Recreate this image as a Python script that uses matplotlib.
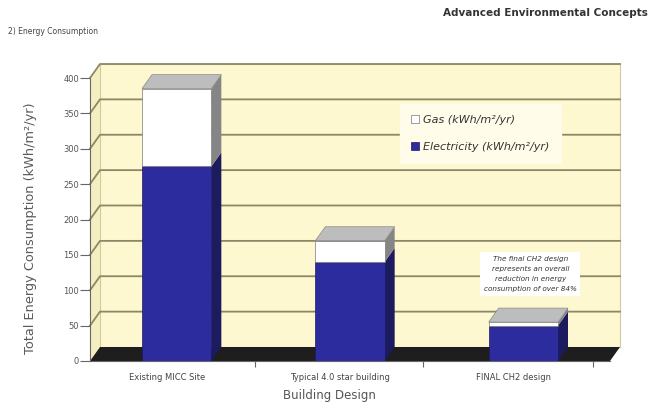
import numpy as np
import matplotlib.pyplot as plt
import matplotlib.transforms as mtransforms
from matplotlib.patches import Polygon

# dane do wykresu
budynki = ["Existing MICC Site", "Typical 4.0 star building", "FINAL CH2 design"]
prad = [275, 140, 50]     # Electricity (kWh/m2/yr)
gaz = [110, 30, 5]        # Gas (kWh/m2/yr)
y_ticks = [0, 50, 100, 150, 200, 250, 300, 350, 400]

W, H = 652, 403
DX, DY = 10, 14           # przesuniecie "glebokosci" w pikselach

fig = plt.figure(figsize=(W / 100, H / 100), dpi=100)
fig.patch.set_facecolor("white")
ax = fig.add_axes([90 / W, 1 - 361 / H, 520 / W, 283 / H])
ax.set_xlim(-0.5, 2.5)
ax.set_ylim(0, 400)
ax.patch.set_visible(False)

ident = mtransforms.IdentityTransform()


def px(x, y):
    return ax.transData.transform((x, y))


def wielokat(punkty, kolor, z, krawedz="none", lw=0.0):
    p = Polygon(punkty, closed=True, facecolor=kolor, edgecolor=krawedz,
                linewidth=lw, transform=ident, clip_on=False, zorder=z)
    ax.add_patch(p)


# sciany: tylna, boczna i podloga
x0, y0 = px(-0.5, 0)
x1, y1 = px(2.5, 400)
wielokat([(x0 + DX, y0 + DY), (x1 + DX, y0 + DY), (x1 + DX, y1 + DY), (x0 + DX, y1 + DY)],
         "#fdf8cf", 0.5, "#cfcaa6", 0.8)
wielokat([(x0, y0), (x0 + DX, y0 + DY), (x0 + DX, y1 + DY), (x0, y1)], "#f5eec0", 0.6)

# linie siatki na scianach
for v in y_ticks[1:]:
    xa, ya = px(-0.5, v)
    xb, _ = px(2.5, v)
    ax.plot([xa, xa + DX, xb + DX], [ya, ya + DY, ya + DY], color="#8c8766",
            lw=1.3, transform=ident, clip_on=False, zorder=0.8)

wielokat([(x0, y0), (x1, y0), (x1 + DX, y0 + DY), (x0 + DX, y0 + DY)], "#1e1e1e", 0.9)

# slupki (przednie sciany)
x = np.arange(len(budynki))
szer = 0.4
kol_prad = "#2c2c9e"
kol_gaz = "white"
b1 = ax.bar(x, prad, szer, color=kol_prad, edgecolor="#1a1a60", linewidth=0.5,
            zorder=3, label="Electricity (kWh/m\u00b2/yr)")
b2 = ax.bar(x, gaz, szer, bottom=prad, color=kol_gaz, edgecolor="#777777",
            linewidth=0.5, zorder=3, label="Gas (kWh/m\u00b2/yr)")

# boki i gory slupkow
for i in range(len(budynki)):
    e = prad[i]
    t = prad[i] + gaz[i]
    xl, _ = px(i - szer / 2, 0)
    xr, yb = px(i + szer / 2, 0)
    _, ye = px(0, e)
    _, yt = px(0, t)
    wielokat([(xr, yb), (xr + DX, yb + DY), (xr + DX, ye + DY), (xr, ye)], "#1b1b5e", 2.5)
    wielokat([(xr, ye), (xr + DX, ye + DY), (xr + DX, yt + DY), (xr, yt)], "#858585", 2.5)
    wielokat([(xl, yt), (xr, yt), (xr + DX, yt + DY), (xl + DX, yt + DY)], "#bdbdbd", 2.5,
             "#8a8a8a", 0.5)

# osie
for s in ["top", "right"]:
    ax.spines[s].set_visible(False)
ax.spines["left"].set_color("#666666")
ax.spines["left"].set_linewidth(0.8)
ax.spines["bottom"].set_color("#666666")
ax.spines["bottom"].set_linewidth(0.8)
ax.set_yticks(y_ticks)
ax.tick_params(axis="y", length=7, width=0.8, color="#666666", labelsize=6,
               labelcolor="#555555", pad=1)
ax.set_xticks(x)
ax.set_xticklabels(budynki)
ax.tick_params(axis="x", length=0, labelsize=6, labelcolor="#444444", pad=9)
przes = mtransforms.ScaledTranslation(-10 / 100, 0, fig.dpi_scale_trans)
for lab in ax.get_xticklabels():
    lab.set_transform(lab.get_transform() + przes)
ax.set_xticks([0.45, 1.42, 2.4], minor=True)
ax.tick_params(axis="x", which="minor", length=4, width=0.8, color="#666666")

ax.set_ylabel("Total Energy Consumption (kWh/m\u00b2/yr)", fontsize=9.3, color="#5a5a5a")
ax.yaxis.set_label_coords(-53 / 520, 0.47)
ax.set_xlabel("Building Design", fontsize=8.5, color="#555555")
ax.xaxis.set_label_coords(0.46, -28 / 283)

# legenda
leg = ax.legend(handles=[b2, b1], loc="upper left", bbox_to_anchor=(400 / W, 1 - 104 / H),
                bbox_transform=fig.transFigure, borderaxespad=0, frameon=True,
                fancybox=False, facecolor="#fffdea", edgecolor="#fffdea", framealpha=1,
                prop={"style": "italic", "size": 8}, labelcolor="#333333",
                handlelength=0.7, handleheight=0.7, handletextpad=0.4,
                labelspacing=1.5, borderpad=1.0)
leg.set_zorder(5)

# opis przy ostatnim slupku
ax.text(2.04, 123, "The final CH2 design\nrepresents an overall\nreduction in energy\n"
        "consumption of over 84%", ha="center", va="center", fontsize=5.2,
        style="italic", color="#333333", linespacing=1.8, zorder=5,
        bbox=dict(boxstyle="square,pad=0.5", facecolor="white", edgecolor="none"))

# naglowki
fig.text(8 / W, 1 - 32 / H, "2) Energy Consumption", fontsize=5.5, color="#444444",
         va="center", ha="left")
fig.text(648 / W, 1 - 13 / H, "Advanced Environmental Concepts", fontsize=7.5,
         fontweight="bold", color="#333333", va="center", ha="right")

plt.savefig("out.png", dpi=100)
